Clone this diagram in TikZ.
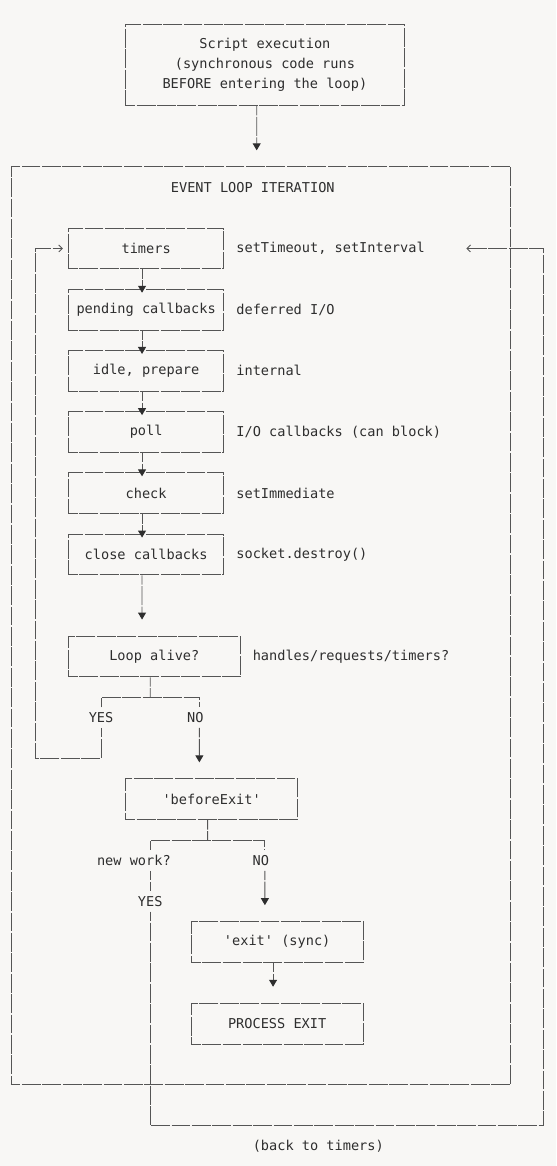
\documentclass[tikz,border=0pt]{standalone}
\usepackage{fontspec}
\setmonofont{DejaVu Sans Mono}
\usepackage{tikz}
\usetikzlibrary{positioning,arrows,arrows.meta,calc}
\definecolor{paper}{HTML}{F8F7F5}
\definecolor{ink}{HTML}{2E2E2E}
\definecolor{rulec}{HTML}{555555}
\newcommand{\asciifont}{\ttfamily\fontsize{13.6pt}{20.4pt}\selectfont}

\begin{document}
\begin{tikzpicture}[x=8.19pt, y=-20.4pt,
  ln/.style={draw=rulec, line width=.9pt, dash pattern=on 18.9pt off 1.5pt, dash phase=9.45pt},
  box/.style={ln, rectangle, inner sep=0pt, minimum height=40.8pt, text=ink, font=\asciifont},
  phase/.style={box, minimum width=155.61pt},
  lbl/.style={text=ink, inner sep=0pt, anchor=west, font=\asciifont},
  br/.style={text=ink, inner xsep=0pt, inner ysep=5pt, font=\asciifont},
  flow/.style={ln, -{Triangle[length=7pt,width=8pt,color=ink]}},
  gap/.style={shorten >=16pt},
  barb/.style={ln, -{Straight Barb[length=3.5pt,width=7pt]}}]

\fill[paper] (-1.343,-1.176) rectangle (66.545,55.98);
\useasboundingbox (-1.343,-1.176) rectangle (66.545,55.98);

\node[box, minimum width=278.46pt, minimum height=81.6pt, align=center] (script) at (31,2)
  {Script execution\\(synchronous code runs\\BEFORE entering the loop)};

\node[box, minimum width=499.59pt, minimum height=918pt] (iter) at (30.5,29.5) {};
\node[lbl] (itertitle) at (19.5,8) {EVENT LOOP ITERATION};

\node[phase] (timers) at (16.5,11) {timers};
\node[lbl] (timersnote) at (27.5,11) {setTimeout, setInterval};
\node[phase] (pending) at (16.5,14) {pending callbacks};
\node[lbl] (pendingnote) at (27.5,14) {deferred I/O};
\node[phase] (idle) at (16.5,17) {idle, prepare};
\node[lbl] (idlenote) at (27.5,17) {internal};
\node[phase] (poll) at (16.5,20) {poll};
\node[lbl] (pollnote) at (27.5,20) {I/O callbacks (can block)};
\node[phase] (check) at (16.5,23) {check};
\node[lbl] (checknote) at (27.5,23) {setImmediate};
\node[phase] (close) at (16.5,26) {close callbacks};
\node[lbl] (closenote) at (27.5,26) {socket.destroy()};

\node[box, minimum width=171.99pt] (alive) at (17.5,31) {Loop alive?};
\node[lbl] (alivenote) at (29.5,31) {handles/requests/timers?};
\node[br] (yes) at (11,34) {YES};
\node[br] (no) at (22.5,34) {NO};

\node[box, minimum width=171.99pt] (bexit) at (24.5,38) {'beforeExit'};
\node[br] (work) at (15,41) {new work?};
\node[br] (no2) at (30.5,41) {NO};
\node[br] (yes2) at (17,43) {YES};

\node[box, minimum width=171.99pt] (exit) at (32.5,45) {'exit' (sync)};
\node[box, minimum width=171.99pt] (process) at (32.5,49) {PROCESS EXIT};

\node[lbl] (backnote) at (29.5,55) {(back to timers)};

\coordinate (fork1) at (17,33);
\coordinate (fork2) at (24,40);
\coordinate (backin) at (55.6,11);

% into the loop
\draw[flow, gap] ([xshift=-8.19pt]script.south) -- ([xshift=-4.1pt]iter.north);

\draw[flow, shorten >=-4pt] ([xshift=-4.1pt]timers.south) -- ([xshift=-4.1pt]pending.north);
\draw[flow, shorten >=-4pt] ([xshift=-4.1pt]pending.south) -- ([xshift=-4.1pt]idle.north);
\draw[flow, shorten >=-4pt] ([xshift=-4.1pt]idle.south) -- ([xshift=-4.1pt]poll.north);
\draw[flow, shorten >=-4pt] ([xshift=-4.1pt]poll.south) -- ([xshift=-4.1pt]check.north);
\draw[flow, shorten >=-4pt] ([xshift=-4.1pt]check.south) -- ([xshift=-4.1pt]close.north);
\draw[flow, gap] ([xshift=-4.1pt]close.south) -- ([xshift=-12.29pt]alive.north);

\draw[ln] ([xshift=-4.1pt]alive.south) -- (fork1);
\draw[ln] (yes.north) |- (fork1) -| ([xshift=4.1pt]no.north);
\draw[flow, gap] ([xshift=4.1pt]no.south) -- ([xshift=-12.29pt]bexit.north);
\draw[barb, shorten >=5pt] (yes.south) |- (3,36) |- (timers.west);

\draw[ln] ([xshift=-4.1pt]bexit.south) -- (fork2);
\draw[ln] ([xshift=16.38pt]work.north) |- (fork2) -| ([xshift=4.1pt]no2.north);
\draw[ln] ([xshift=16.38pt]work.south) -- (yes2.north);
\draw[flow, gap] ([xshift=4.1pt]no2.south) -- ([xshift=-12.29pt]exit.north);
\draw[flow, gap] ([xshift=-4.1pt]exit.south) -- ([xshift=-4.1pt]process.north);

% back to timers
\draw[barb] (yes2.south) |- (65,54) |- (backin);

\end{tikzpicture}
\end{document}
